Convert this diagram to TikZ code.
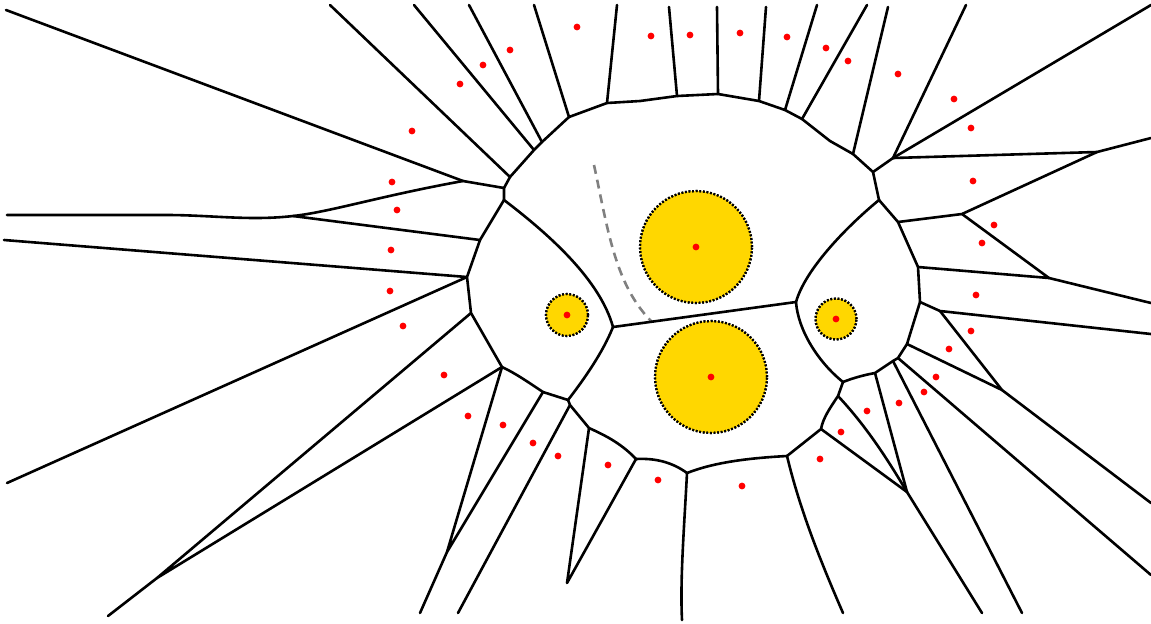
\documentclass[tikz,border=0pt]{standalone}
\usepackage{tikz}
\definecolor{seedgold}{RGB}{255,215,0}

\begin{document}
\begin{tikzpicture}[x=0.5pt,y=-0.5pt,
edge/.style={line width=1.3pt,line join=round,line cap=round},
site/.style={fill=red},
disk/.style={fill=seedgold,draw=black,line width=1.1pt,dash pattern=on 0.9pt off 0.9pt},
guide/.style={gray,line width=1.3pt,dash pattern=on 4.5pt off 3pt}]
\useasboundingbox (0,0) rectangle (1151,623);

\fill[disk] (696,247) circle[radius=28pt];
\fill[disk] (711,377) circle[radius=28pt];
\fill[disk] (567,315) circle[radius=10.5pt];
\fill[disk] (836,319) circle[radius=10.25pt];
\draw[disk,fill=none] (696,247) circle[radius=28pt];
\draw[disk,fill=none] (711,377) circle[radius=28pt];
\draw[disk,fill=none] (567,315) circle[radius=10.5pt];
\draw[disk,fill=none] (836,319) circle[radius=10.25pt];

\draw[guide] (594,165) .. controls (608,230) and (615,285) .. (652,322);

\coordinate (a1) at (504,200);
\coordinate (a2) at (504,188);
\coordinate (a3) at (510,177);
\coordinate (a4) at (534,150);
\coordinate (a5) at (542,142);
\coordinate (a6) at (569,117);
\coordinate (a7) at (607,103);
\coordinate (a8) at (677,96);
\coordinate (a9) at (718,94);
\coordinate (a10) at (759,101);
\coordinate (a11) at (785,110);
\coordinate (a12) at (802,119);
\coordinate (a13) at (853,154);
\coordinate (a14) at (873,172);
\coordinate (a15) at (879,200);
\coordinate (b1) at (796,302);
\coordinate (b2) at (613,327);
\coordinate (c1) at (843,382);
\coordinate (c2) at (875,373);
\coordinate (c3) at (893,361);
\coordinate (c4) at (898,358);
\coordinate (c5) at (907,344);
\coordinate (c6) at (920,302);
\coordinate (c7) at (918,267);
\coordinate (c8) at (898,222);
\coordinate (d1) at (838,396);
\coordinate (d2) at (821,429);
\coordinate (d3) at (787,456);
\coordinate (d4) at (687,473);
\coordinate (d5) at (636,459);
\coordinate (d6) at (589,428);
\coordinate (d7) at (570,405);
\coordinate (d8) at (568,400);
\coordinate (d9) at (543,392);
\coordinate (e1) at (502,367);
\coordinate (e2) at (471,313);
\coordinate (e3) at (467,277);
\coordinate (e4) at (480,240);
\coordinate (e5) at (463,181);
\coordinate (e6) at (293,216);
\coordinate (f1) at (893,158);
\coordinate (f2) at (1097,152);
\coordinate (f3) at (962,214);
\coordinate (f4) at (1049,278);
\coordinate (f5) at (940,311);
\coordinate (f6) at (1002,390);
\coordinate (g1) at (907,492);
\coordinate (g2) at (447,552);
\coordinate (g3) at (157,578);

\draw[edge] (a1) -- (a2) -- (a3) -- (a4) -- (a5) -- (a6) -- (a7) -- (640,101) -- (a8) -- (a9) -- (a10) -- (a11) -- (a12) -- (830,141) -- (a13) -- (a14) -- (a15);
\draw[edge] (a15) .. controls (845,228) and (805,270) .. (b1);
\draw[edge] (a1) .. controls (550,235) and (600,280) .. (b2);
\draw[edge] (b2) -- (b1);
\draw[edge] (b1) .. controls (798,330) and (818,362) .. (c1);
\draw[edge] (c1) .. controls (853,378) and (864,375) .. (c2) -- (c3) -- (c4) -- (c5) -- (c6) -- (c7) -- (c8) -- (a15);
\draw[edge] (c1) -- (d1) .. controls (830,408) and (823,418) .. (d2) -- (d3);
\draw[edge] (d3) .. controls (750,458) and (715,462) .. (d4);
\draw[edge] (d4) .. controls (672,462) and (655,458) .. (d5);
\draw[edge] (d5) .. controls (620,442) and (602,434) .. (d6) -- (d7) -- (d8) -- (d9);
\draw[edge] (d9) .. controls (528,382) and (515,373) .. (e1) -- (e2) -- (e3) -- (e4) -- (a1);
\draw[edge] (d8) .. controls (585,378) and (603,352) .. (b2);

\draw[edge] (a3) -- (330,5);
\draw[edge] (a4) -- (414,5);
\draw[edge] (a5) -- (469,5);
\draw[edge] (a6) -- (534,5);
\draw[edge] (a7) -- (617,5);
\draw[edge] (a8) -- (669,7);
\draw[edge] (a9) -- (717,7);
\draw[edge] (a10) -- (766,7);
\draw[edge] (a11) -- (817,5);
\draw[edge] (a12) -- (867,5);
\draw[edge] (a13) -- (888,7);
\draw[edge] (a14) -- (f1);
\draw[edge] (f1) -- (966,5);
\draw[edge] (f1) -- (1151,5);
\draw[edge] (f1) -- (f2) -- (1151,138);
\draw[edge] (f2) -- (f3) -- (c8);
\draw[edge] (f3) -- (f4) -- (c7);
\draw[edge] (f4) -- (1151,303);
\draw[edge] (c6) -- (f5) -- (1151,334);
\draw[edge] (f5) -- (f6) -- (c5);
\draw[edge] (f6) -- (1151,503);
\draw[edge] (c4) -- (1151,575);
\draw[edge] (c3) -- (1022,613);
\draw[edge] (c2) -- (g1);
\draw[edge] (d1) .. controls (865,425) and (885,455) .. (g1);
\draw[edge] (d2) -- (g1) -- (982,613);
\draw[edge] (d3) .. controls (800,510) and (820,560) .. (843,613);
\draw[edge] (d4) .. controls (684,530) and (680,580) .. (682,620);
\draw[edge] (d5) -- (567,583) -- (d6);
\draw[edge] (d7) -- (458,613);
\draw[edge] (d9) -- (g2) -- (e1);
\draw[edge] (g2) -- (420,613);
\draw[edge] (e1) -- (g3) -- (e2);
\draw[edge] (g3) -- (108,616);
\draw[edge] (e3) -- (7,483);
\draw[edge] (e3) -- (4,240);
\draw[edge] (e4) -- (e6);
\draw[edge] (e5) .. controls (380,196) and (330,212) .. (e6) .. controls (250,221) and (210,215) .. (167,215) -- (7,215);
\draw[edge] (e5) -- (6,10);
\draw[edge] (e5) -- (a2);

\foreach \x/\y in {577/27,651/36,690/35,740/33,787/37,826/48,848/61,898/74,954/99,971/128,
973/181,994/225,982/243,976/295,971/331,949/349,936/377,924/392,899/403,867/411,841/432,
820/459,742/486,658/480,608/465,558/456,533/443,503/425,468/416,444/375,403/326,390/291,
391/250,397/210,392/182,412/131,460/84,483/65,510/50,696/247,567/315,711/377,836/319}
\fill[site] (\x,\y) circle[radius=1.7pt];
\end{tikzpicture}
\end{document}
